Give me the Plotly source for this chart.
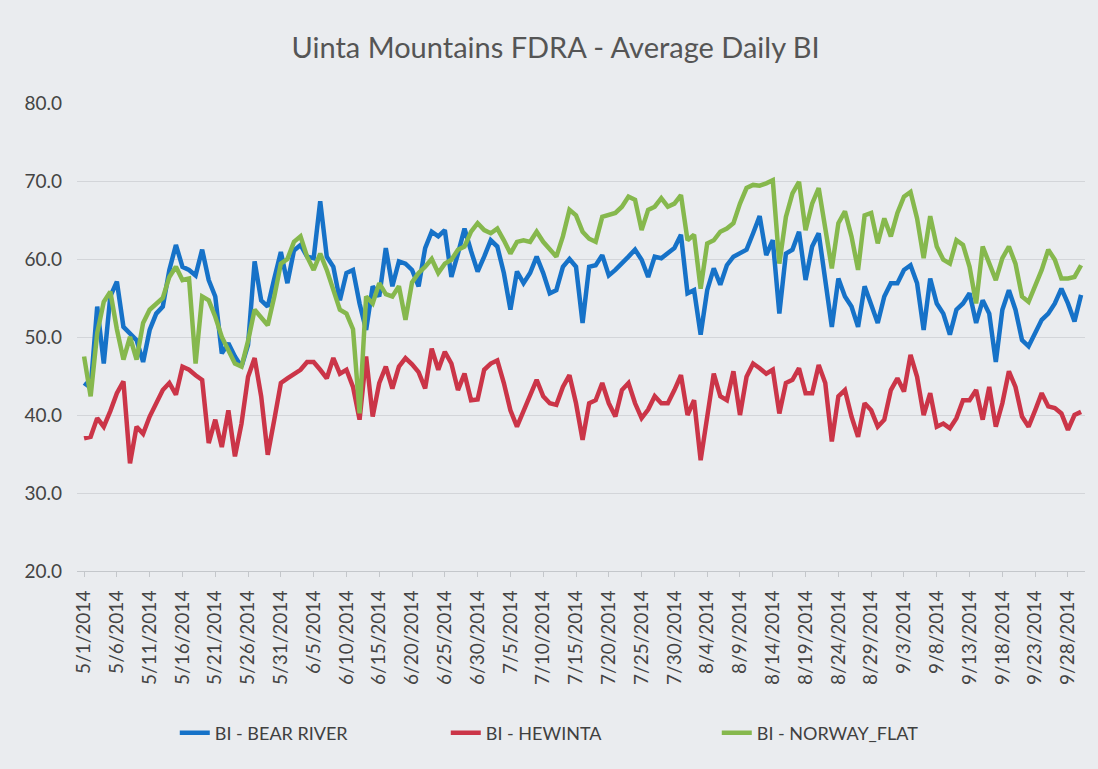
import pandas as pd
import plotly.graph_objects as go

START_DATE = "2014-05-01"

BEAR_RIVER = [
    44.1, 43.5, 53.9, 46.6, 55.2, 57.1, 51.3, 50.5, 49.6, 46.8,
    50.9, 53.0, 53.9, 58.6, 61.8, 59.0, 58.6, 57.9, 61.2, 57.3,
    55.2, 47.9, 49.2, 47.5, 46.2, 49.0, 59.7, 54.7, 53.9, 57.5,
    60.9, 56.9, 61.1, 61.8, 60.3, 60.1, 67.4, 60.3, 59.0, 54.7,
    58.2, 58.6, 54.3, 50.9, 56.5, 55.2, 61.4, 56.5, 59.7, 59.4,
    58.6, 56.5, 61.4, 63.5, 62.9, 63.7, 57.7, 60.7, 63.9, 61.0,
    58.4, 60.3, 62.4, 61.6, 58.2, 53.5, 58.4, 56.9, 58.2, 60.3,
    58.2, 55.6, 56.0, 59.0, 60.0, 59.0, 51.8, 59.0, 59.2, 60.5,
    57.9, 58.6, 59.4, 60.3, 61.2, 59.9, 57.7, 60.3, 60.1, 60.7,
    61.4, 63.1, 55.6, 56.0, 50.3, 56.0, 58.8, 56.7, 59.2, 60.3,
    60.7, 61.2, 63.3, 65.5, 60.5, 62.4, 53.0, 60.7, 61.2, 63.5,
    57.3, 61.6, 63.3, 57.3, 51.3, 57.5, 55.2, 53.9, 51.3, 56.5,
    54.3, 51.8, 55.2, 56.9, 56.9, 58.6, 59.2, 56.9, 50.9, 57.5,
    54.3, 53.0, 50.3, 53.5, 54.3, 55.6, 51.8, 54.7, 53.0, 46.8,
    53.5, 56.0, 53.5, 49.6, 48.8, 50.5, 52.2, 53.0, 54.3, 56.2,
    54.3, 52.0, 55.4,
]

HEWINTA = [
    37.0, 37.2, 39.6, 38.5, 40.5, 42.8, 44.3, 33.8, 38.5, 37.6,
    39.8, 41.5, 43.2, 44.1, 42.6, 46.2, 45.8, 45.1, 44.5, 36.4,
    39.4, 35.9, 40.6, 34.7, 38.9, 44.9, 47.3, 42.4, 34.9, 39.4,
    44.1, 44.7, 45.2, 45.8, 46.8, 46.8, 45.8, 44.7, 47.3, 45.3,
    45.8, 43.6, 39.4, 47.5, 39.8, 44.1, 46.2, 43.4, 46.2, 47.3,
    46.5, 45.5, 43.4, 48.5, 45.8, 48.1, 46.6, 43.2, 45.3, 41.9,
    42.0, 45.8, 46.6, 47.0, 44.1, 40.6, 38.5, 40.6, 42.4, 44.5,
    42.4, 41.5, 41.3, 43.6, 45.1, 41.5, 36.8, 41.5, 41.9, 44.1,
    41.5, 39.8, 43.2, 44.1, 41.5, 39.6, 40.7, 42.4, 41.5, 41.5,
    43.2, 45.1, 40.0, 41.9, 34.2, 40.2, 45.3, 42.4, 41.9, 45.6,
    40.0, 44.9, 46.6, 46.0, 45.3, 45.8, 40.2, 44.1, 44.5, 46.0,
    42.8, 42.8, 46.4, 44.1, 36.6, 42.4, 43.2, 39.8, 37.2, 41.5,
    40.6, 38.5, 39.4, 43.2, 44.7, 43.0, 47.7, 44.9, 40.0, 42.8,
    38.5, 38.9, 38.3, 39.6, 41.9, 41.9, 43.2, 39.4, 43.6, 38.5,
    41.5, 45.6, 43.6, 39.8, 38.5, 40.6, 42.8, 41.1, 40.9, 40.2,
    38.1, 40.0, 40.4,
]

NORWAY_FLAT = [
    47.5, 42.4, 50.5, 54.5, 55.8, 51.0, 47.1, 50.0, 47.1, 51.8,
    53.5, 54.2, 55.0, 57.7, 59.0, 57.3, 57.5, 46.6, 55.2, 54.7,
    52.6, 50.0, 48.3, 46.6, 46.2, 49.5, 53.5, 52.5, 51.5, 55.2,
    59.4, 60.0, 62.2, 62.9, 60.3, 58.6, 60.7, 58.6, 56.0, 53.5,
    53.0, 51.0, 40.2, 55.2, 54.3, 56.9, 55.5, 55.2, 56.5, 52.2,
    57.0, 58.2, 59.0, 60.0, 58.2, 59.4, 59.9, 61.2, 61.6, 63.5,
    64.6, 63.7, 63.3, 63.9, 62.4, 60.7, 62.2, 62.4, 62.2, 63.5,
    62.2, 61.2, 60.3, 62.9, 66.3, 65.6, 63.5, 62.6, 62.2, 65.4,
    65.6, 65.9, 66.7, 68.0, 67.6, 63.7, 66.3, 66.7, 67.8, 66.7,
    67.1, 68.2, 62.4, 63.1, 56.2, 62.0, 62.4, 63.5, 63.9, 64.6,
    67.1, 69.1, 69.5, 69.4, 69.7, 70.1, 59.4, 65.4, 68.4, 69.9,
    63.7, 67.1, 69.1, 64.1, 58.8, 64.6, 66.1, 62.9, 58.6, 65.6,
    65.9, 62.0, 65.2, 62.9, 65.9, 68.0, 68.6, 65.2, 60.1, 65.5,
    61.6, 59.9, 59.4, 62.4, 61.8, 59.0, 54.3, 61.6, 59.4, 57.3,
    60.1, 61.6, 59.4, 55.2, 54.5, 56.5, 58.6, 61.2, 59.9, 57.5,
    57.5, 57.7, 59.2,
]

SERIES_NAMES = ["BI - BEAR RIVER", "BI - HEWINTA", "BI - NORWAY_FLAT"]
SERIES_COLORS = ["#1672c8", "#cb3548", "#86b84d"]
Y_TICKS = [20, 30, 40, 50, 60, 70, 80]
TITLE = "Uinta Mountains FDRA - Average Daily BI"

dates = pd.date_range(START_DATE, periods=len(BEAR_RIVER), freq="D")

BG = "#eaecef"
FONT = "Lato"

fig = go.Figure()
for name, vals, col in zip(SERIES_NAMES, [BEAR_RIVER, HEWINTA, NORWAY_FLAT], SERIES_COLORS):
    fig.add_trace(go.Scatter(
        x=dates, y=vals, name=name, mode="lines",
        line=dict(color=col, width=4.5, shape="linear"),
    ))

fig.update_layout(
    width=1098, height=769,
    paper_bgcolor=BG, plot_bgcolor=BG,
    margin=dict(l=77, r=13, t=103, b=198, autoexpand=False),
    title=dict(text=TITLE, x=0.506, xref="container", y=1 - 48 / 769,
               yref="container", xanchor="center", yanchor="middle",
               font=dict(family=FONT, size=29, color="#555555")),
    font=dict(family=FONT, color="#444444"),
    showlegend=True,
    legend=dict(
        orientation="h", x=0.097, xanchor="left", y=-0.346, yanchor="middle",
        font=dict(family=FONT, size=18, color="#404040"),
        entrywidth=226, entrywidthmode="pixels",
        bgcolor="rgba(0,0,0,0)", traceorder="normal",
    ),
)

fig.update_xaxes(
    type="date",
    range=["2014-04-29 22:05", "2014-09-30 14:24"],
    tick0=START_DATE, dtick=5 * 86400000,
    tickformat="%-m/%-d/%Y", tickangle=-90,
    tickfont=dict(family=FONT, size=19, color="#444444"),
    showgrid=False, zeroline=False,
    showline=True, linecolor="#c4c7cb", linewidth=1,
    ticks="outside", ticklen=5, tickcolor="#c4c7cb",
    ticklabelstandoff=6,
)

fig.update_yaxes(
    range=[20, 80], tickvals=Y_TICKS,
    ticktext=[f"{v:.1f}" for v in Y_TICKS],
    tickfont=dict(family=FONT, size=19, color="#444444"),
    showgrid=True, gridcolor="#d3d5d9", gridwidth=1,
    zeroline=False, showline=False, ticks="",
    ticklabelstandoff=14,
)

fig.write_html(
    "out.html",
    config={"displayModeBar": False},
    post_script="document.body.style.margin='0';document.body.style.background='" + BG + "';",
)
